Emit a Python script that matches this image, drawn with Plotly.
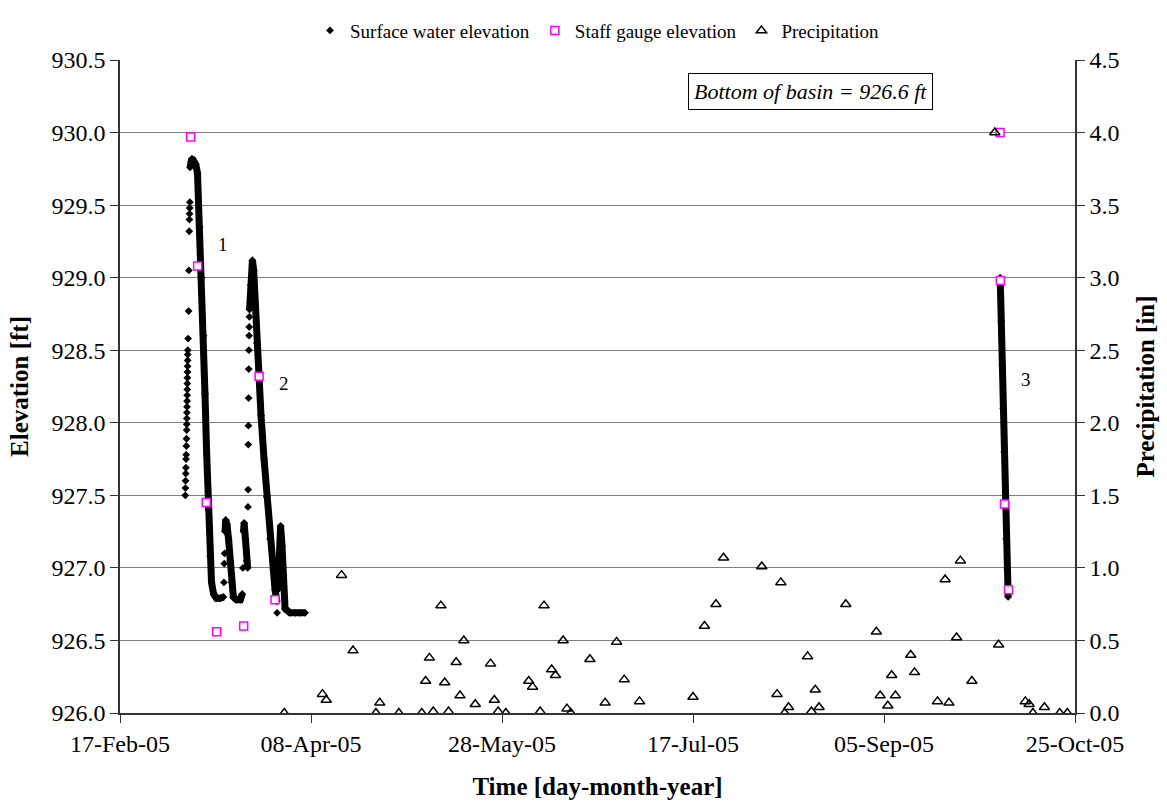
import plotly.graph_objects as go

# ---------------- data ----------------
# Surface water elevation: dense logger stretches (drawn as a thick band)
sw_dense_time = [
    # event 1 peak and recession
    "2005-03-07 08:00", "2005-03-07 14:00", "2005-03-07 20:00", "2005-03-08 04:00",
    "2005-03-08 12:00", "2005-03-08 20:00", "2005-03-09 07:00", "2005-03-09 20:00",
    "2005-03-10 09:00", "2005-03-10 21:00", "2005-03-11 06:00", "2005-03-11 16:00",
    "2005-03-12 03:00", "2005-03-12 14:00", "2005-03-12 23:00", "2005-03-13 12:00",
    "2005-03-14 06:00", "2005-03-15 04:00", "2005-03-16 02:00", None,
    # small bump
    "2005-03-16 12:00", "2005-03-16 16:00", "2005-03-17 00:00", "2005-03-17 10:00",
    "2005-03-17 20:00", "2005-03-18 06:00", "2005-03-18 16:00", "2005-03-19 12:00",
    "2005-03-20 12:00", "2005-03-21 00:00", None,
    "2005-03-21 08:00", "2005-03-21 12:00", "2005-03-21 20:00", "2005-03-22 04:00",
    "2005-03-22 10:00", None,
    # event 2 peak and recession
    "2005-03-22 22:00", "2005-03-23 06:00", "2005-03-23 16:00", "2005-03-24 00:00",
    "2005-03-24 10:00", "2005-03-24 20:00", "2005-03-25 05:00", "2005-03-25 22:00",
    "2005-03-26 17:00", "2005-03-27 10:00", "2005-03-28 07:00", "2005-03-29 03:00",
    "2005-03-29 14:00", "2005-03-30 01:00", None,
    "2005-03-30 09:00", "2005-03-30 18:00", "2005-03-31 01:00", "2005-03-31 10:00",
    "2005-03-31 19:00", "2005-04-01 05:00", "2005-04-02 12:00", "2005-04-03 20:00",
    "2005-04-05 03:00", "2005-04-06 11:00", None,
    # event 3
    "2005-10-05 10:00", "2005-10-05 17:00", "2005-10-05 23:00", "2005-10-06 05:00",
    "2005-10-06 11:00", "2005-10-06 18:00", "2005-10-07 00:00", "2005-10-07 06:00",
    "2005-10-07 12:00",
]
sw_dense_elev = [
    929.76, 929.80, 929.82, 929.81,
    929.79, 929.78, 929.72, 929.35,
    929.00, 928.60, 928.20, 927.80,
    927.40, 927.08, 926.90, 926.82,
    926.79, 926.79, 926.80, None,
    927.25, 927.33, 927.30, 927.20,
    927.05, 926.90, 926.80, 926.78,
    926.78, 926.82, None,
    927.25, 927.31, 927.20, 927.05,
    927.00, None,
    928.78, 928.95, 929.12, 929.05,
    928.80, 928.55, 928.32, 928.05,
    927.75, 927.49, 927.20, 927.00,
    926.85, 926.77, None,
    926.85, 927.10, 927.29, 927.15,
    926.95, 926.72, 926.69, 926.69,
    926.69, 926.69, None,
    929.00, 928.70, 928.40, 928.10,
    927.80, 927.50, 927.20, 927.00,
    926.80,
]

# Surface water elevation: sparse readings during fast rises
sw_sparse_time = [
    "2005-03-06 02:00", "2005-03-06 03:00", "2005-03-06 04:00", "2005-03-06 05:00",
    "2005-03-06 06:00", "2005-03-06 07:00", "2005-03-06 08:00", "2005-03-06 09:00",
    "2005-03-06 10:00", "2005-03-06 11:00", "2005-03-06 11:30", "2005-03-06 12:00",
    "2005-03-06 12:30", "2005-03-06 13:00", "2005-03-06 13:30", "2005-03-06 14:00",
    "2005-03-06 14:30", "2005-03-06 15:00", "2005-03-06 15:30", "2005-03-06 16:00",
    "2005-03-06 16:30", "2005-03-06 17:00", "2005-03-06 17:30", "2005-03-06 18:00",
    "2005-03-06 20:00", "2005-03-06 23:00", "2005-03-07 01:00", "2005-03-07 03:00",
    "2005-03-07 04:00", "2005-03-07 05:00", "2005-03-07 06:00", "2005-03-07 07:00",
    "2005-03-16 05:00", "2005-03-16 07:00", "2005-03-16 09:00",
    "2005-03-21 04:00",
    "2005-03-22 12:00", "2005-03-22 13:00", "2005-03-22 14:00", "2005-03-22 15:00",
    "2005-03-22 16:00", "2005-03-22 17:00", "2005-03-22 18:00", "2005-03-22 19:00",
    "2005-03-22 20:00", "2005-03-22 21:00",
    "2005-03-30 03:00",
]
sw_sparse_elev = [
    927.50, 927.55, 927.60, 927.65,
    927.69, 927.75, 927.78, 927.84,
    927.89, 927.95, 927.99, 928.03,
    928.07, 928.11, 928.15, 928.19,
    928.23, 928.27, 928.31, 928.35,
    928.39, 928.43, 928.47, 928.50,
    928.58, 928.77, 929.05, 929.32,
    929.40, 929.44, 929.48, 929.52,
    926.90, 927.03, 927.10,
    927.00,
    927.42, 927.54, 927.85, 927.98,
    928.17, 928.37, 928.50, 928.60,
    928.66, 928.73,
    926.69,
]

staff_time = [
    "2005-03-07 12:00", "2005-03-09 08:00", "2005-03-11 14:00", "2005-03-14 08:00",
    "2005-03-21 09:00", "2005-03-25 10:00", "2005-03-29 14:00", "2005-10-05 09:00",
    "2005-10-05 11:00", "2005-10-06 13:00", "2005-10-07 14:00",
]
staff_elev = [929.97, 929.08, 927.45, 926.56, 926.60, 928.32, 926.78,
              930.00, 928.98, 927.44, 926.85]

precip_date = [
    "2005-04-01", "2005-04-11", "2005-04-12", "2005-04-16", "2005-04-19", "2005-04-25",
    "2005-04-26", "2005-05-01", "2005-05-07", "2005-05-08", "2005-05-09", "2005-05-10",
    "2005-05-12", "2005-05-13", "2005-05-14", "2005-05-16", "2005-05-17", "2005-05-18",
    "2005-05-21", "2005-05-25", "2005-05-26", "2005-05-27", "2005-05-29", "2005-06-04",
    "2005-06-05", "2005-06-07", "2005-06-08", "2005-06-10", "2005-06-11", "2005-06-13",
    "2005-06-14", "2005-06-15", "2005-06-20", "2005-06-24", "2005-06-27", "2005-06-29",
    "2005-07-03", "2005-07-17", "2005-07-20", "2005-07-23", "2005-07-25", "2005-08-04",
    "2005-08-08", "2005-08-09", "2005-08-10", "2005-08-11", "2005-08-16", "2005-08-17",
    "2005-08-18", "2005-08-19", "2005-08-26", "2005-09-03", "2005-09-04", "2005-09-06",
    "2005-09-07", "2005-09-08", "2005-09-12", "2005-09-13", "2005-09-19", "2005-09-21",
    "2005-09-22", "2005-09-24", "2005-09-25", "2005-09-28", "2005-10-04", "2005-10-05",
    "2005-10-12", "2005-10-13", "2005-10-14", "2005-10-17", "2005-10-21", "2005-10-23",
]
precip_in = [
    0.00, 0.13, 0.09, 0.95, 0.43, 0.00,
    0.07, 0.00, 0.00, 0.22, 0.38, 0.01,
    0.74, 0.21, 0.01, 0.35, 0.12, 0.50,
    0.06, 0.34, 0.09, 0.01, 0.00, 0.22,
    0.18, 0.01, 0.74, 0.30, 0.26, 0.50,
    0.03, 0.00, 0.37, 0.07, 0.49, 0.23,
    0.08, 0.11, 0.60, 0.75, 1.07, 1.01,
    0.13, 0.90, 0.00, 0.04, 0.39, 0.01,
    0.16, 0.04, 0.75, 0.56, 0.12, 0.05,
    0.26, 0.12, 0.40, 0.28, 0.08, 0.92,
    0.07, 0.52, 1.05, 0.22, 4.00, 0.47,
    0.08, 0.06, 0.00, 0.04, 0.00, 0.00,
]

x_tick_dates = ["2005-02-17", "2005-04-08", "2005-05-28", "2005-07-17", "2005-09-05", "2005-10-25"]
x_tick_labels = ["17-Feb-05", "08-Apr-05", "28-May-05", "17-Jul-05", "05-Sep-05", "25-Oct-05"]

event_labels = ["1", "2", "3"]
event_label_time = ["2005-03-16 01:00", "2005-04-01 00:00", "2005-10-12 05:00"]
event_label_elev = [929.23, 928.27, 928.30]

# ---------------- figure ----------------
FONT = "Liberation Serif"
AX = "#333333"
GRID = "#7f7f7f"

fig = go.Figure()

fig.add_trace(go.Scatter(
    x=sw_sparse_time, y=sw_sparse_elev, mode="markers",
    name="Surface water elevation", legendgroup="sw",
    marker=dict(symbol="diamond", size=6, color="black"),
))
fig.add_trace(go.Scatter(
    x=sw_dense_time, y=sw_dense_elev, mode="lines+markers",
    name="Surface water elevation", legendgroup="sw", showlegend=False,
    line=dict(color="black", width=7), connectgaps=False,
    marker=dict(symbol="diamond", size=6, color="black"),
))
fig.add_trace(go.Scatter(
    x=staff_time, y=staff_elev, mode="markers", name="Staff gauge elevation",
    marker=dict(symbol="square", size=8, color="white",
                line=dict(color="#FF00FF", width=1.5)),
))
fig.add_trace(go.Scatter(
    x=precip_date, y=precip_in, mode="markers", name="Precipitation", yaxis="y2",
    marker=dict(symbol="triangle-up-open", size=9, color="black",
                line=dict(color="black", width=1.5)),
))

annotations = []
for t, xx, yy in zip(event_labels, event_label_time, event_label_elev):
    annotations.append(dict(x=xx, y=yy, xref="x", yref="y", text=t, showarrow=False,
                            font=dict(family=FONT, size=19, color="black")))
annotations.append(dict(
    x=0.723, y=0.952, xref="paper", yref="paper", xanchor="center", yanchor="middle",
    text="<i>Bottom of basin = 926.6 ft</i>", showarrow=False,
    font=dict(family=FONT, size=22, color="black"),
    bordercolor="black", borderwidth=1, borderpad=5, bgcolor="white",
))

fig.update_layout(
    width=1167, height=808, autosize=False,
    margin=dict(l=120, r=92, t=48, b=95),
    paper_bgcolor="white", plot_bgcolor="white",
    font=dict(family=FONT, size=24, color="black"),
    showlegend=True,
    legend=dict(orientation="h", x=0.5, xanchor="center", y=1.045, yanchor="middle",
                font=dict(family=FONT, size=19, color="black"),
                itemwidth=30, bgcolor="rgba(0,0,0,0)", tracegroupgap=0),
    annotations=annotations,
    xaxis=dict(
        type="date", range=["2005-02-17", "2005-10-25"],
        tickmode="array", tickvals=x_tick_dates, ticktext=x_tick_labels,
        ticks="outside", ticklen=8, tickcolor=AX, tickwidth=1,
        showline=True, linecolor=AX, linewidth=1.5, showgrid=False, zeroline=False,
        tickfont=dict(family=FONT, size=24),
        title=dict(text="<b>Time [day-month-year]</b>", font=dict(family=FONT, size=25),
                   standoff=22),
    ),
    yaxis=dict(
        range=[926.0, 930.5], dtick=0.5, tick0=926.0, tickformat=".1f",
        ticks="outside", ticklen=8, tickcolor=AX,
        showline=True, linecolor=AX, linewidth=1.5,
        showgrid=True, gridcolor=GRID, gridwidth=1, zeroline=False,
        tickfont=dict(family=FONT, size=24),
        title=dict(text="<b>Elevation [ft]</b>", font=dict(family=FONT, size=25),
                   standoff=16),
    ),
    yaxis2=dict(
        range=[0, 4.5], dtick=0.5, tick0=0, tickformat=".1f", overlaying="y", side="right",
        ticks="outside", ticklen=8, tickcolor=AX,
        showline=True, linecolor=AX, linewidth=1.5, showgrid=False, zeroline=False,
        tickfont=dict(family=FONT, size=24),
        title=dict(text="<b>Precipitation [in]</b>", font=dict(family=FONT, size=25),
                   standoff=18),
    ),
)

fig.write_html("out.html")
